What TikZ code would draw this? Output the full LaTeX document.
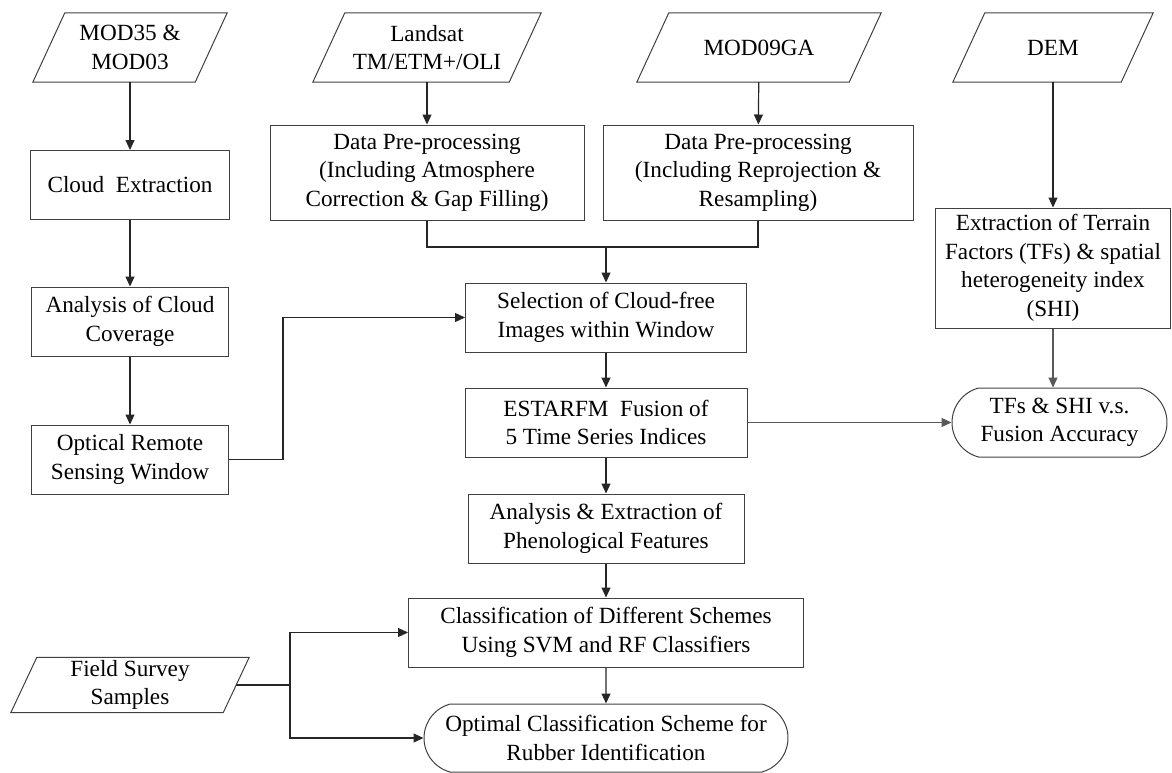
\documentclass[tikz,border=0pt]{standalone}
\usepackage{fontspec}
\setmainfont{Liberation Serif}
\usetikzlibrary{arrows.meta,shapes.misc}

\begin{document}
\begin{tikzpicture}[x=1pt,y=-1pt,
    txt/.style={font=\fontsize{23.2}{28.5}\selectfont, align=center, inner sep=1pt},
    box/.style={txt, draw=black!75, line width=1pt, minimum height=69pt},
    term/.style={box, rounded rectangle, rounded rectangle arc length=150},
    io/.style={txt, minimum height=69pt},
    arr/.style={-{Triangle[length=10pt,width=9pt]}, line width=1.2pt, black!85},
    grayarr/.style={arr, black!65},
    link/.style={line width=1.1pt, black!85}]
    \useasboundingbox (0,0) rectangle (1172,772);

    % data inputs
    \node[io, minimum width=162pt] (mod35) at (130,47.5) {MOD35 \&\\MOD03};
    \node[io, minimum width=196pt] (landsat) at (427,47.5) {Landsat\\TM/ETM+/OLI};
    \node[io, minimum width=212pt] (mod09) at (759,47.5) {MOD09GA};
    \node[io, minimum width=168pt] (dem) at (1053,47.5) {DEM};
    \node[io, minimum width=212pt, minimum height=55pt] (field) at (130,685) {Field Survey\\Samples};
    \foreach \n/\s in {mod35/16,landsat/16,mod09/16,dem/16,field/13}
        \draw[black!75, line width=1pt] ([xshift=\s pt]\n.north west) -- ([xshift=\s pt]\n.north east)
            -- ([xshift=-\s pt]\n.south east) -- ([xshift=-\s pt]\n.south west) -- cycle;

    % cloud window branch
    \node[box, minimum width=199pt] (cloud) at (130,185) {Cloud\ \ Extraction};
    \node[box, minimum width=197pt] (cover) at (130,321.5) {Analysis of Cloud\\Coverage};
    \node[box, minimum width=197pt] (window) at (130,459.5) {Optical Remote\\Sensing Window};

    % pre-processing
    \node[box, minimum width=314pt, minimum height=95pt] (prep1) at (427,172.5)
        {Data Pre-processing\\(Including Atmosphere\\Correction \& Gap Filling)};
    \node[box, minimum width=310pt, minimum height=95pt] (prep2) at (758,172.5)
        {Data Pre-processing\\(Including Reprojection \&\\Resampling)};

    % main chain
    \node[box, minimum width=281pt] (select) at (606,317.5) {Selection of Cloud-free\\Images within Window};
    \node[box, minimum width=282pt] (fusion) at (606,422.5) {ESTARFM\ \ Fusion of\\5 Time Series Indices};
    \node[box, minimum width=276pt] (pheno) at (606,528.5) {Analysis \& Extraction of\\Phenological Features};
    \node[box, minimum width=395pt] (classify) at (606,632.5) {Classification of Different Schemes\\Using SVM and RF Classifiers};
    \node[term, minimum width=366pt, minimum height=68pt] (optimal) at (606,738) {Optimal Classification Scheme for\\Rubber Identification};

    % terrain branch
    \node[box, minimum width=235pt, minimum height=120pt] (terrain) at (1053,268)
        {Extraction of Terrain\\Factors (TFs) \& spatial\\heterogeneity index\\(SHI)};
    \node[term, minimum width=217pt] (tfs) at (1059.5,422.5) {TFs \& SHI v.s.\\Fusion Accuracy};

    \coordinate (M) at (606,247);
    \coordinate (J) at (290,685);

    \draw[arr] (mod35) -- (cloud);
    \draw[arr] (cloud) -- (cover);
    \draw[arr] (cover) -- (window);
    \draw[arr] (window.east) -- ++(54,0) |- (select.west);
    \draw[arr] (landsat) -- (prep1);
    \draw[arr] (mod09) -- (prep2);
    \draw[link] (prep1.south) -- (prep1.south |- M) -- (prep2.south |- M) -- (prep2.south);
    \draw[arr] (M) -- (select);
    \draw[arr] (select) -- (fusion);
    \draw[arr] (fusion) -- (pheno);
    \draw[arr] (pheno) -- (classify);
    \draw[arr] (classify) -- (optimal);
    \draw[arr] (dem) -- (terrain);
    \draw[grayarr] (terrain.south) -- (terrain.south |- tfs.north);
    \draw[grayarr] (fusion.east) -- (tfs.west);
    \draw[link] (field.east) -- (J);
    \draw[arr] (J) |- (classify.west);
    \draw[arr] (J) |- (optimal.west);
\end{tikzpicture}
\end{document}
